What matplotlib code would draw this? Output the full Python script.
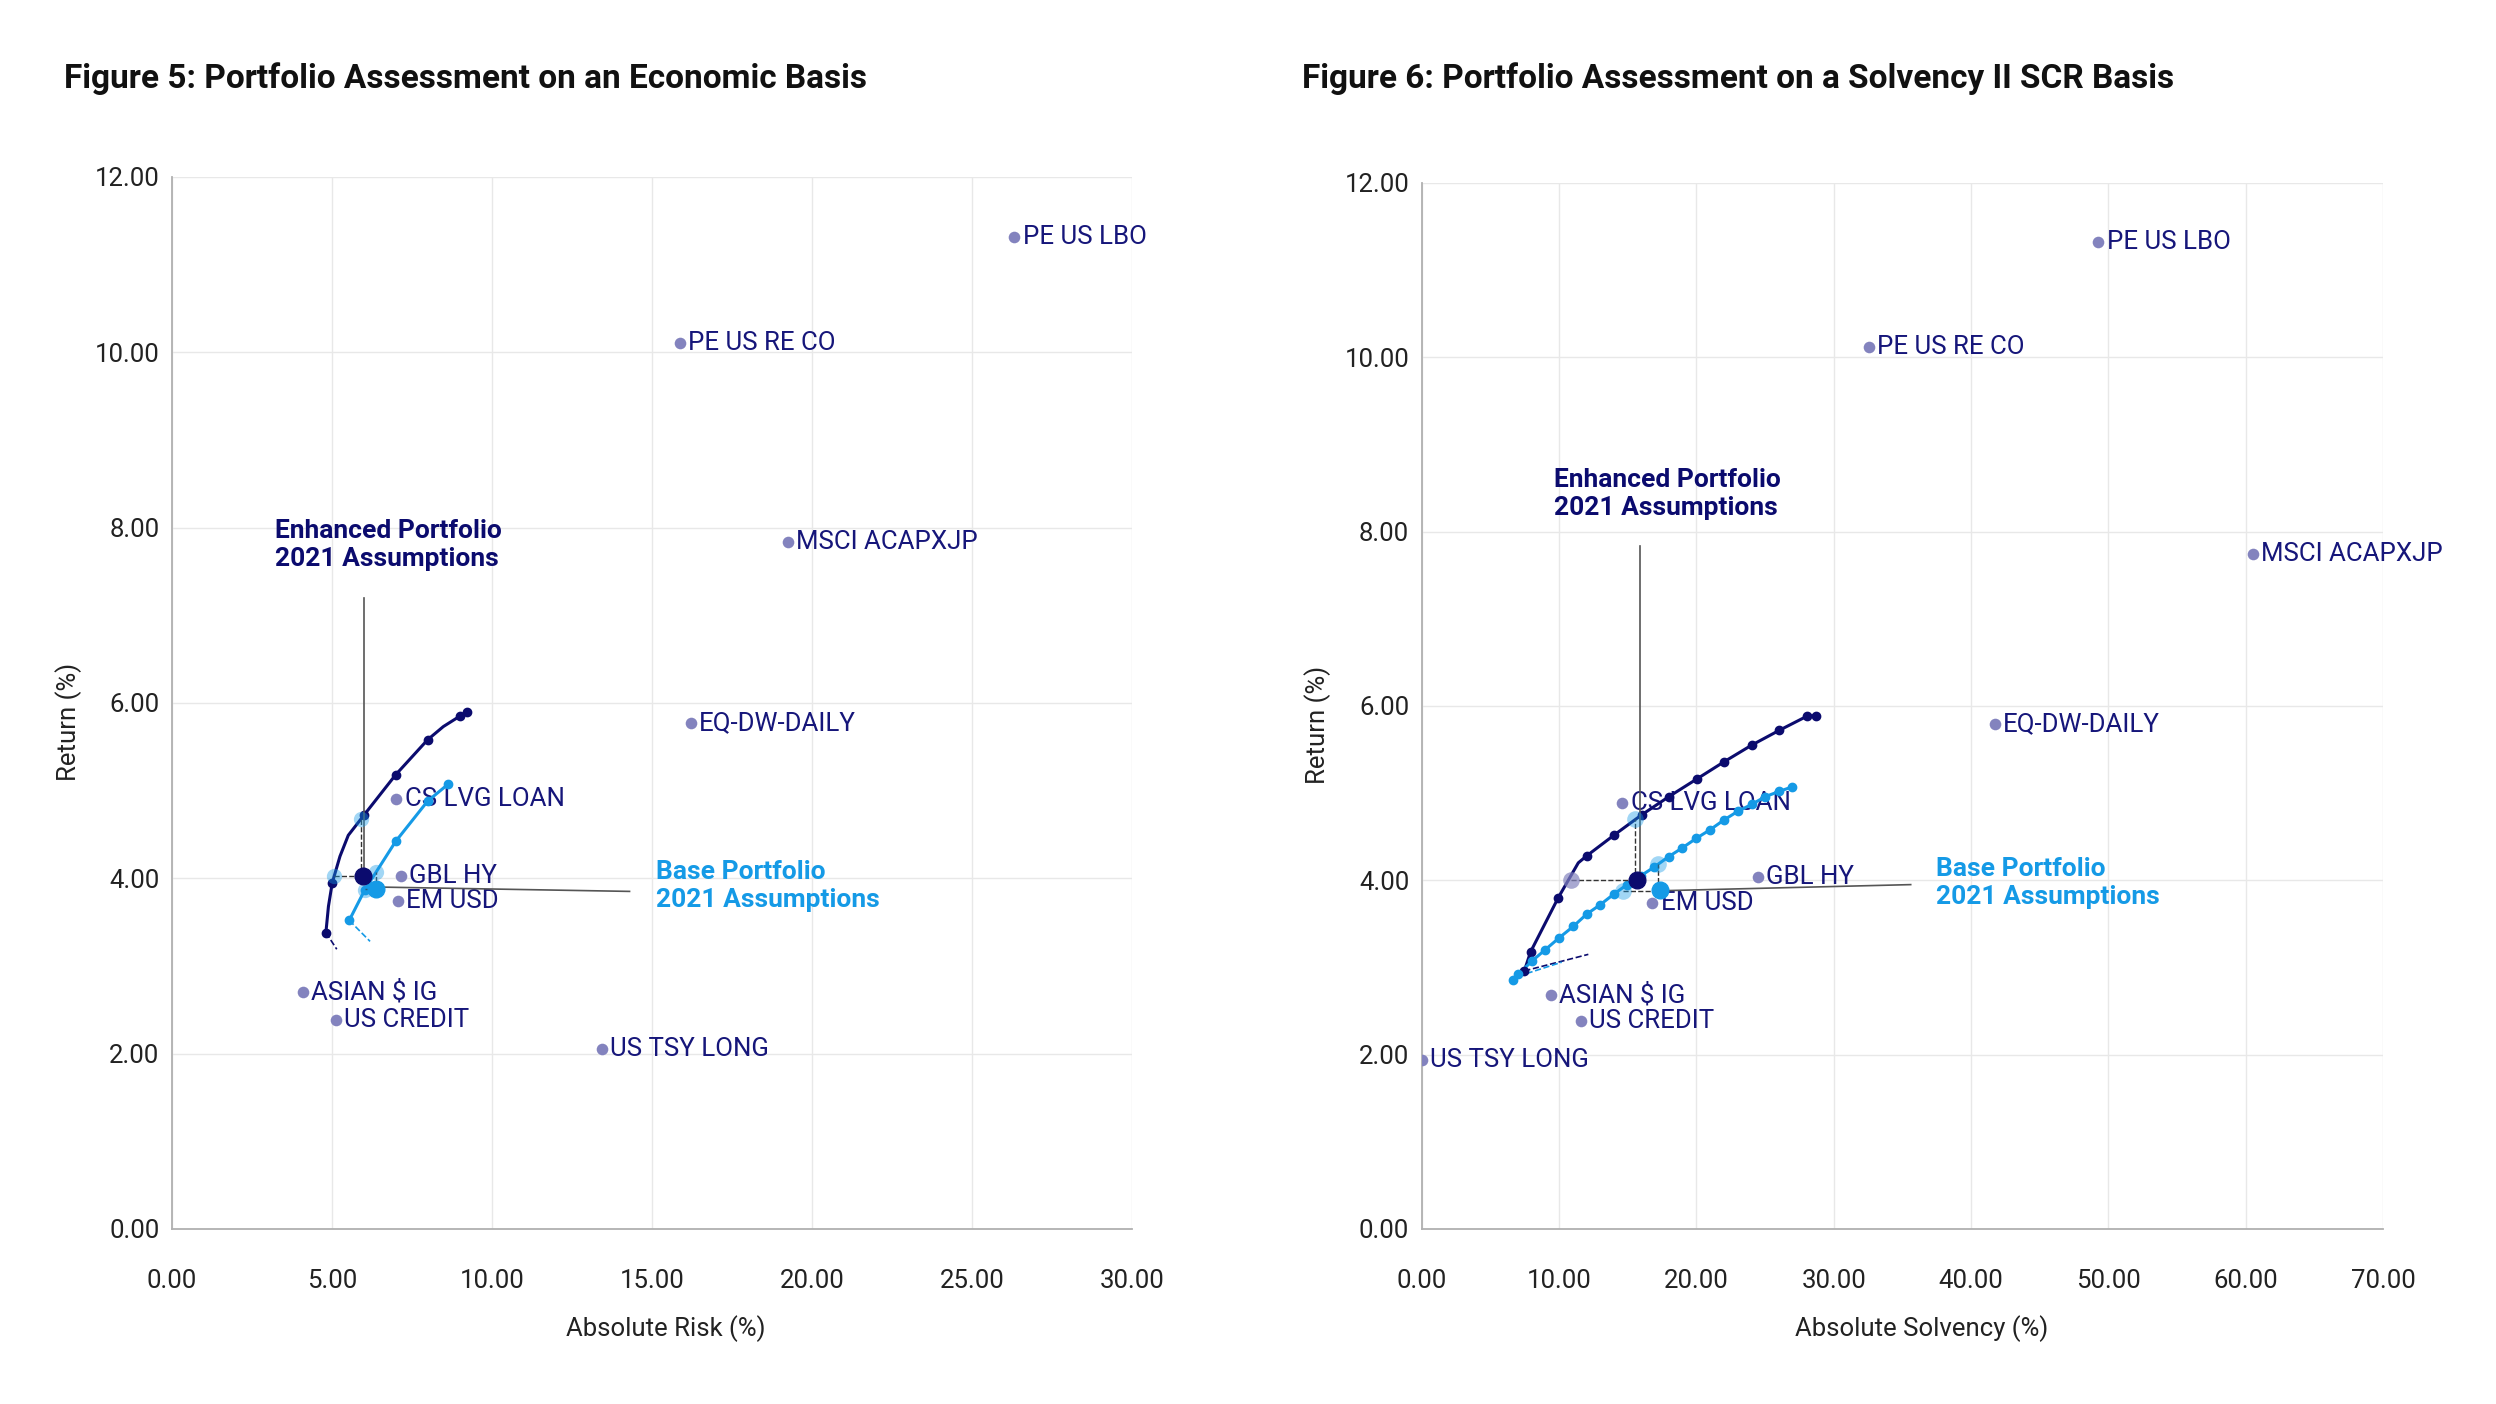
import numpy as np
import matplotlib
matplotlib.use('Agg')
from matplotlib import pyplot as plt
from matplotlib.ticker import FormatStrFormatter

plt.rcParams['font.family'] = ['Roboto', 'DejaVu Sans']

# 资产点
assets = ['PE US LBO', 'PE US RE CO', 'MSCI ACAPXJP', 'EQ-DW-DAILY', 'CS LVG LOAN',
          'GBL HY', 'EM USD', 'ASIAN $ IG', 'US CREDIT', 'US TSY LONG']
econ_risk = [26.32, 15.87, 19.25, 16.22, 7.01, 7.16, 7.06, 4.08, 5.12, 13.43]
econ_ret = [11.31, 10.11, 7.84, 5.77, 4.90, 4.03, 3.74, 2.70, 2.38, 2.05]
scr_risk = [49.25, 32.56, 60.49, 41.71, 14.60, 24.45, 16.80, 9.39, 11.59, 0.0]
scr_ret = [11.32, 10.12, 7.74, 5.79, 4.89, 4.04, 3.74, 2.68, 2.39, 1.94]

# 有效前沿 (经济基础)
econ_enh_x = [4.81, 4.89, 5.01, 5.25, 5.51, 6.00, 6.99, 7.99, 8.48, 9.00, 9.23]
econ_enh_y = [3.38, 3.68, 3.95, 4.25, 4.49, 4.72, 5.18, 5.58, 5.73, 5.85, 5.90]
econ_enh_mk = [0, 2, 5, 6, 7, 9, 10]
econ_base_x = [5.54, 6.03, 6.99, 7.99, 8.62]
econ_base_y = [3.52, 3.87, 4.42, 4.88, 5.07]

# 有效前沿 (SCR 基础)
scr_enh_x = [7.47, 7.93, 9.94, 11.40, 12.01, 14.02, 16.01, 18.00, 20.01, 22.02, 24.02, 26.03, 28.02, 28.68]
scr_enh_y = [2.96, 3.18, 3.80, 4.20, 4.28, 4.52, 4.75, 4.96, 5.16, 5.36, 5.55, 5.72, 5.88, 5.89]
scr_enh_mk = [0, 1, 2, 4, 5, 6, 7, 8, 9, 10, 11, 12, 13]
scr_base_x = [6.67, 7.03, 8.00, 8.97, 10.01, 11.03, 12.00, 13.00, 13.98, 14.95, 15.94, 16.91,
              17.97, 18.96, 19.98, 21.00, 21.99, 23.00, 24.02, 25.02, 26.04, 26.94]
scr_base_y = [2.86, 2.92, 3.07, 3.20, 3.34, 3.47, 3.61, 3.72, 3.84, 3.95, 4.05, 4.15,
              4.27, 4.37, 4.48, 4.58, 4.69, 4.79, 4.87, 4.96, 5.02, 5.07]

# 组合点
econ_enh_pt = (5.96, 4.02)
econ_base_pt = (6.38, 3.88)
scr_enh_pt = (15.65, 4.00)
scr_base_pt = (17.34, 3.89)

NAVY = '#0b0b6e'
TXT = '#16167a'
BLUE = '#159ae6'
DOT = '#8383be'
GRID = '#e8e8e8'

fig = plt.figure(figsize=(24.96, 14.04), dpi=100)
ax1 = fig.add_axes([0.0689, 0.1247, 0.3846, 0.7493])
ax2 = fig.add_axes([0.5696, 0.1247, 0.3852, 0.7450])


def style(ax, xmax, xstep, xlabel, xlab_x):
    ax.set_xlim(0, xmax)
    ax.set_ylim(0, 12)
    ax.set_xticks(np.arange(0, xmax + 0.1, xstep))
    ax.set_yticks(np.arange(0, 12.1, 2))
    ax.xaxis.set_major_formatter(FormatStrFormatter('%.2f'))
    ax.yaxis.set_major_formatter(FormatStrFormatter('%.2f'))
    ax.grid(True, color=GRID, linewidth=1.0)
    ax.set_axisbelow(True)
    for s in ['top', 'right']:
        ax.spines[s].set_visible(False)
    for s in ['left', 'bottom']:
        ax.spines[s].set_color('#b0b0b0')
        ax.spines[s].set_linewidth(1.3)
    ax.tick_params(axis='x', length=0, pad=29, labelsize=18.5, labelcolor='#222222')
    ax.tick_params(axis='y', length=0, pad=9, labelsize=18.5, labelcolor='#222222')
    ax.set_xlabel(xlabel, fontsize=18.5, color='#222222', va='center')
    ax.xaxis.set_label_coords(xlab_x, -0.095)
    ax.set_ylabel('Return (%)', fontsize=18.5, color='#222222', va='center')
    ax.yaxis.set_label_coords(-0.108, 0.482)


def assets_plot(ax, xs, ys):
    ax.scatter(xs, ys, s=70, color=DOT, zorder=3, linewidths=0)
    for name, x, y in zip(assets, xs, ys):
        ax.annotate(name, (x, y), xytext=(6, 0), textcoords='offset points',
                    va='center', ha='left', fontsize=18.6, color=TXT, zorder=4)


def frontier(ax, xs, ys, color, mk=None):
    ax.plot(xs, ys, color=color, lw=2.2, zorder=5)
    if mk is None:
        mk = range(len(xs))
    ax.plot([xs[i] for i in mk], [ys[i] for i in mk], 'o', color=color, ms=6, zorder=6)


# ---------- Figure 5 ----------
style(ax1, 30, 5, 'Absolute Risk (%)', 0.514)
assets_plot(ax1, econ_risk, econ_ret)
frontier(ax1, econ_enh_x, econ_enh_y, NAVY, econ_enh_mk)
frontier(ax1, econ_base_x, econ_base_y, BLUE)
ax1.plot([4.81, 5.15], [3.38, 3.19], '--', color=NAVY, lw=1.2, zorder=4)
ax1.plot([5.54, 6.19], [3.52, 3.28], '--', color=BLUE, lw=1.2, zorder=4)
# 标注线
ax1.plot([6.00, 6.00], [4.02, 7.20], color='#555555', lw=1.2, zorder=7)
ax1.plot([5.92, 5.92], [4.02, 4.68], '--', color='#333333', lw=1.0, zorder=7)
ax1.plot([5.07, 5.96], [4.02, 4.02], '--', color='#333333', lw=1.0, zorder=7)
ax1.plot([6.40, 14.30], [3.90, 3.85], color='#555555', lw=1.2, zorder=7)
ax1.plot([6.37, 6.37], [3.88, 4.07], '--', color='#333333', lw=1.0, zorder=7)
ax1.plot([6.03, 6.38], [3.88, 3.88], '--', color='#333333', lw=1.0, zorder=7)
ax1.plot([5.92, 5.07], [4.68, 4.02], 'o', color=BLUE, ms=11, alpha=0.4, mec='none', zorder=8)
ax1.plot([6.37, 6.03], [4.07, 3.87], 'o', color=BLUE, ms=11, alpha=0.4, mec='none', zorder=8)
ax1.plot(*econ_enh_pt, 'o', color=NAVY, ms=12, zorder=9)
ax1.plot(*econ_base_pt, 'o', color=BLUE, ms=12, zorder=9)
ax1.text(3.23, 8.10, 'Enhanced Portfolio\n2021 Assumptions', fontsize=19, fontweight='bold',
         color=NAVY, va='top', ha='left', linespacing=1.2, zorder=10)
ax1.text(15.12, 4.21, 'Base Portfolio\n2021 Assumptions', fontsize=19, fontweight='bold',
         color=BLUE, va='top', ha='left', linespacing=1.2, zorder=10)

# ---------- Figure 6 ----------
style(ax2, 70, 10, 'Absolute Solvency (%)', 0.52)
assets_plot(ax2, scr_risk, scr_ret)
frontier(ax2, scr_enh_x, scr_enh_y, NAVY, scr_enh_mk)
frontier(ax2, scr_base_x, scr_base_y, BLUE)
ax2.plot([7.47, 12.13], [2.96, 3.15], '--', color=NAVY, lw=1.2, zorder=4)
ax2.plot([7.64, 10.19], [2.93, 3.06], '--', color=BLUE, lw=1.2, zorder=4)
ax2.plot([15.90, 15.90], [4.00, 7.84], color='#555555', lw=1.2, zorder=7)
ax2.plot([15.55, 15.55], [4.00, 4.70], '--', color='#333333', lw=1.0, zorder=7)
ax2.plot([10.87, 15.65], [4.00, 4.00], '--', color='#333333', lw=1.0, zorder=7)
ax2.plot([17.50, 35.60], [3.88, 3.95], color='#555555', lw=1.2, zorder=7)
ax2.plot([17.20, 17.20], [3.89, 4.19], '--', color='#333333', lw=1.0, zorder=7)
ax2.plot([14.63, 17.34], [3.88, 3.88], '--', color='#333333', lw=1.0, zorder=7)
ax2.plot([15.55], [4.70], 'o', color=BLUE, ms=12, alpha=0.4, mec='none', zorder=8)
ax2.plot([10.87], [4.00], 'o', color=DOT, ms=12, alpha=0.7, mec='none', zorder=8)
ax2.plot([17.20, 14.63], [4.19, 3.88], 'o', color=BLUE, ms=12, alpha=0.4, mec='none', zorder=8)
ax2.plot(*scr_enh_pt, 'o', color=NAVY, ms=12, zorder=9)
ax2.plot(*scr_base_pt, 'o', color=BLUE, ms=12, zorder=9)
ax2.text(9.62, 8.73, 'Enhanced Portfolio\n2021 Assumptions', fontsize=19, fontweight='bold',
         color=NAVY, va='top', ha='left', linespacing=1.2, zorder=10)
ax2.text(37.43, 4.27, 'Base Portfolio\n2021 Assumptions', fontsize=19, fontweight='bold',
         color=BLUE, va='top', ha='left', linespacing=1.2, zorder=10)

fig.text(0.0256, 0.956, 'Figure 5: Portfolio Assessment on an Economic Basis',
         fontsize=24, fontweight='bold', color='#111111', va='top', ha='left')
fig.text(0.5216, 0.956, 'Figure 6: Portfolio Assessment on a Solvency II SCR Basis',
         fontsize=24, fontweight='bold', color='#111111', va='top', ha='left')

fig.savefig('out.png', dpi=100, facecolor='white')
